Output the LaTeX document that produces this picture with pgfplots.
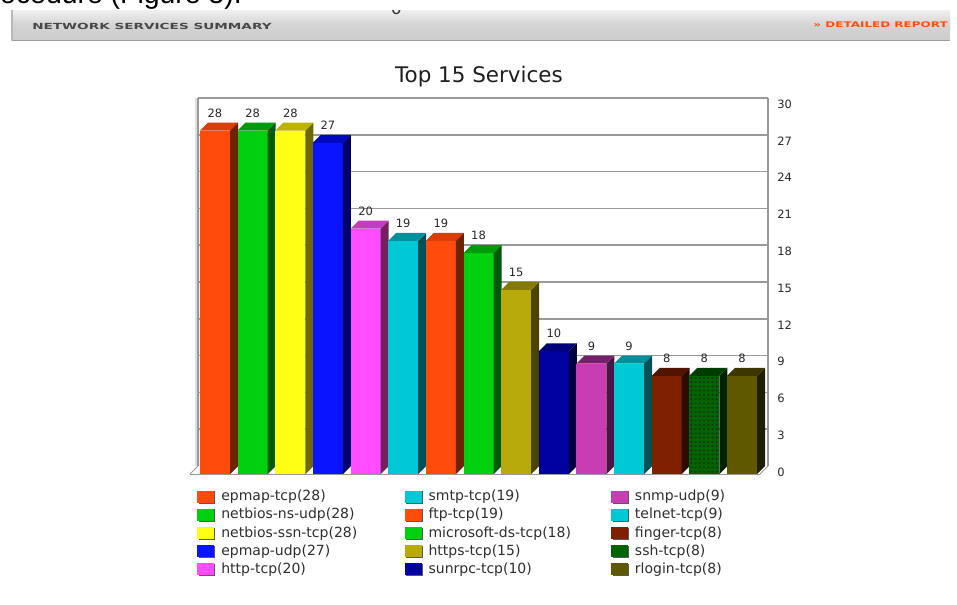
\documentclass[border=0pt]{standalone}
\usepackage{fontspec}
\usepackage{pgfplots}
\pgfplotsset{compat=1.18}
\usetikzlibrary{patterns}
\pgfdeclarepatternformonly{coarsedots}{\pgfqpoint{-1pt}{-1pt}}{\pgfqpoint{1pt}{1pt}}{\pgfqpoint{3.2pt}{3.2pt}}{\pgfpathcircle{\pgfqpoint{0pt}{0pt}}{0.75pt}\pgfusepath{fill}}
\setmainfont{DejaVu Sans}
\newfontfamily\arialf{Liberation Sans}
\newfontfamily\hdrf{DejaVu Sans}
\definecolor{cOr}{HTML}{FF4C0A}\definecolor{sOr}{HTML}{6E2300}\definecolor{tOr}{HTML}{D83E08}
\definecolor{cGr}{HTML}{00D010}\definecolor{sGr}{HTML}{005A08}\definecolor{tGr}{HTML}{009A0C}
\definecolor{cYe}{HTML}{FFFF14}\definecolor{sYe}{HTML}{6E6800}\definecolor{tYe}{HTML}{BDB400}
\definecolor{cBl}{HTML}{0A14FF}\definecolor{sBl}{HTML}{00006A}\definecolor{tBl}{HTML}{0008C0}
\definecolor{cMa}{HTML}{FF4CFF}\definecolor{sMa}{HTML}{74205E}\definecolor{tMa}{HTML}{C43CC0}
\definecolor{cCy}{HTML}{00C8D4}\definecolor{sCy}{HTML}{005058}\definecolor{tCy}{HTML}{00909C}
\definecolor{cOl}{HTML}{B8AA0A}\definecolor{sOl}{HTML}{4A4400}\definecolor{tOl}{HTML}{847A00}
\definecolor{cNa}{HTML}{0000A0}\definecolor{sNa}{HTML}{000040}\definecolor{tNa}{HTML}{000078}
\definecolor{cPu}{HTML}{C83CB4}\definecolor{sPu}{HTML}{4C1444}\definecolor{tPu}{HTML}{74206A}
\definecolor{cBr}{HTML}{7F2000}\definecolor{sBr}{HTML}{2C0C00}\definecolor{tBr}{HTML}{501400}
\definecolor{cDg}{HTML}{006400}\definecolor{sDg}{HTML}{002400}\definecolor{tDg}{HTML}{003C00}
\definecolor{cDo}{HTML}{605800}\definecolor{sDo}{HTML}{201E00}\definecolor{tDo}{HTML}{3C3600}
\definecolor{gridc}{HTML}{999999}
\newcommand{\threedbar}[4]{%
  \addplot[threed,fill=c#3] coordinates {(#1,#2)};
  \addlegendentry{#4}
  \pgfmathsetmacro\xl{#1-15}\pgfmathsetmacro\xr{#1+15}\pgfmathsetmacro\xb{#1+23}\pgfmathsetmacro\xt{#1-7}
  \pgfmathsetmacro\yb{#2+0.652}
  \edef\temp{\noexpand\addplot[fill=s#3,draw=none,forget plot] coordinates {(\xr,0)(\xb,0.652)(\xb,\yb)(\xr,#2)} --cycle;
  \noexpand\addplot[fill=t#3,draw=none,forget plot] coordinates {(\xl,#2)(\xt,\yb)(\xb,\yb)(\xr,#2)} --cycle;}%
  \temp
}
\newcommand{\gridl}[1]{\addplot[gridc,line width=1.1pt,forget plot] coordinates {(198,#1)(768,#1)};}
\newcommand{\floorm}[1]{\pgfmathsetmacro\xe{#1+8}\edef\temp{\noexpand\addplot[gridc,line width=.7pt,forget plot] coordinates {(#1,0)(\xe,0.652)};}\temp}
\begin{document}
\begin{tikzpicture}
\useasboundingbox (0,0) rectangle (717.75pt,-453pt);
\begin{scope}[x=.75pt,y=-.75pt]
  \shade[top color=white!88!gray,bottom color=black!20,middle color=black!17] (11,10) rectangle (950,40);
  \fill[black!38] (11,39.5) rectangle (950,41);
  \fill[black!28] (11,10) rectangle (12.5,41);
  \node[font=\hdrf\fontsize{13}{13}\selectfont,text=black!80,inner sep=0pt] at (396.5,8.5) {0};
  \fill[white] (380,-2) rectangle (412,9.5);
  \node[font=\arialf\fontsize{21.3}{24}\selectfont,anchor=base east,inner sep=0pt] at (242,3.5) {ocedure (Figure 5).};
  \node[font=\hdrf\bfseries\fontsize{6.3}{7}\selectfont,text=black!72,anchor=west,inner sep=0pt] at (32,26) {\scalebox{1.62}[1]{NETWORK SERVICES SUMMARY}};
  \node[font=\hdrf\bfseries\fontsize{5.8}{7}\selectfont,text=cOr,anchor=east,inner sep=0pt] at (948,24.5) {\scalebox{1.55}[1]{» DETAILED REPORT}};
  \node[font=\fontsize{16.1}{18}\selectfont,text=black!88] at (479,76.5) {Top 15 Services};
\end{scope}
\begin{axis}[
  at={(142.5pt,-355.5pt)},anchor=south west,
  scale only axis,width=438.75pt,height=282pt,
  xmin=190,xmax=775,ymin=0,ymax=30.65,
  clip=false,
  axis line style={draw=none},major tick length=0pt,
  xtick=\empty,ytick={0,3,...,30},yticklabel pos=right,
  /pgf/number format/assume math mode=true,
  yticklabel style={anchor=west,font=\fontsize{8.6}{10}\selectfont,text=black!85,xshift=1.5pt,yshift=1.5pt,inner sep=0pt},
  threed/.style={ybar,bar shift=0pt,bar width=30,draw=none,
    nodes near coords,
    every node near coord/.append style={anchor=center,yshift=13.2pt,font=\fontsize{8.6}{10}\selectfont,text=black!85,inner sep=0pt},
    legend image code/.code={\fill[black!65] (1.2pt,-4.9pt) rectangle (13.5pt,4.3pt);\draw[##1,/tikz/.cd,draw=none] (0pt,-4.4pt) rectangle (12.8pt,4.8pt);}},
  legend columns=5,transpose legend,
  legend cell align=left,
  legend style={at={(0.012,-0.0399)},anchor=north west,draw=none,fill=none,inner sep=0pt,
    font=\fontsize{10.5}{12}\selectfont,text=black!82,row sep=2pt,
    nodes={inner sep=0pt,text height=8.6pt,text depth=3pt},
    /tikz/column 1/.style={column sep=4.5pt},
    /tikz/column 2/.style={column sep=35.5pt},
    /tikz/column 3/.style={column sep=4.5pt},
    /tikz/column 4/.style={column sep=30pt},
    /tikz/column 5/.style={column sep=4.5pt}},
]
% back wall
\addplot[black!12,line width=1.6pt,forget plot] coordinates {(196.5,0.652)(196.5,30.652)};
\addplot[gridc,line width=.8pt,forget plot] coordinates {(198,0.652)(198,30.652)};
\addplot[gridc,line width=.8pt,forget plot] coordinates {(768,0.652)(768,30.652)};
\gridl{3.652}\gridl{6.652}\gridl{9.652}\gridl{12.652}\gridl{15.652}\gridl{18.652}\gridl{21.652}\gridl{24.652}\gridl{27.652}
\addplot[gridc,line width=.9pt,forget plot] coordinates {(198,30.652)(768,30.652)};
\floorm{190}\floorm{229.6}\floorm{267.3}\floorm{304.9}\floorm{342.5}\floorm{380.2}\floorm{417.8}\floorm{455.5}\floorm{493.1}\floorm{530.7}\floorm{568.4}\floorm{606}\floorm{643.7}\floorm{681.3}\floorm{719}\floorm{760}
\addplot[gridc,line width=.9pt,forget plot] coordinates {(190,-0.04)(760,-0.04)};
% bars: centre in px, value
\threedbar{215}{28}{Or}{epmap-tcp(28)}
\threedbar{252.6}{28}{Gr}{netbios-ns-udp(28)}
\threedbar{290.3}{28}{Ye}{netbios-ssn-tcp(28)}
\threedbar{327.9}{27}{Bl}{epmap-udp(27)}
\threedbar{365.6}{20}{Ma}{http-tcp(20)}
\threedbar{403.2}{19}{Cy}{smtp-tcp(19)}
\threedbar{440.8}{19}{Or}{ftp-tcp(19)}
\threedbar{478.5}{18}{Gr}{microsoft-ds-tcp(18)}
\threedbar{516.1}{15}{Ol}{https-tcp(15)}
\threedbar{553.8}{10}{Na}{sunrpc-tcp(10)}
\threedbar{591.4}{9}{Pu}{snmp-udp(9)}
\threedbar{629}{9}{Cy}{telnet-tcp(9)}
\threedbar{666.7}{8}{Br}{finger-tcp(8)}
\threedbar{704.3}{8}{Dg}{ssh-tcp(8)}
\addplot[pattern=coarsedots,pattern color=black!85,draw=none,forget plot] coordinates {(689.3,0)(719.3,0)(719.3,8)(689.3,8)} --cycle;
\threedbar{742}{8}{Do}{rlogin-tcp(8)}
\end{axis}
\end{tikzpicture}
\end{document}
